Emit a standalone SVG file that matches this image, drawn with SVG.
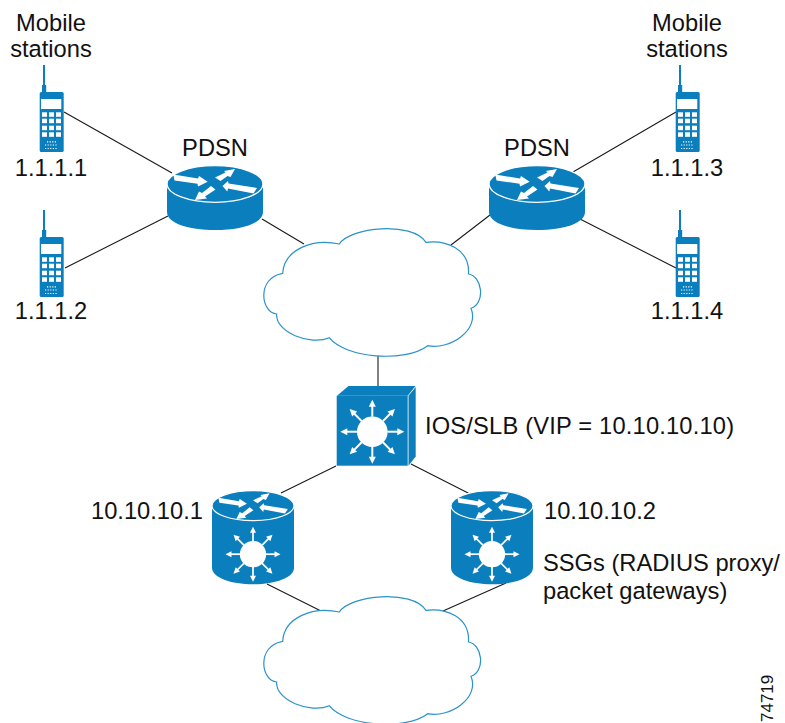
<svg xmlns="http://www.w3.org/2000/svg" xmlns:xlink="http://www.w3.org/1999/xlink" width="785" height="723" viewBox="0 0 785 723">
<style>
text{font-family:"Liberation Sans",Arial,sans-serif;font-size:23.7px;fill:#111}
.c{text-anchor:middle}
.lk{stroke:#1a1a1a;stroke-width:1.1;fill:none}
.b{fill:#0b7fbd}
.w{fill:#fff}
.cl{fill:#fff;stroke:#2a93cb;stroke-width:1.2}
</style>
<defs>
<symbol id="phone" overflow="visible">
<path class="b" d="M43 65h2v20h1.200v7H42v-7h1z"/>
<rect class="b" x="39.700" y="92" width="24" height="60" rx="1.500"/>
<rect class="w" x="41" y="99" width="20.300" height="10"/>
<g class="w">
<rect x="42" y="112.300" width="5" height="4.500"/><rect x="49" y="112.300" width="5" height="4.500"/><rect x="56" y="112.300" width="5" height="4.500"/>
<rect x="42" y="118.700" width="5" height="4.500"/><rect x="49" y="118.700" width="5" height="4.500"/><rect x="56" y="118.700" width="5" height="4.500"/>
<rect x="42" y="125.700" width="5" height="4.500"/><rect x="49" y="125.700" width="5" height="4.500"/><rect x="56" y="125.700" width="5" height="4.500"/>
<rect x="42" y="132.300" width="5" height="4.500"/><rect x="49" y="132.300" width="5" height="4.500"/><rect x="56" y="132.300" width="5" height="4.500"/>
</g>
<path stroke="#fff" stroke-width="1.200" stroke-dasharray="1.200 1.400" fill="none" d="M47 141.800h9M45 145h13M45 148.500h13"/>
</symbol>
<g id="routerArrows">
<path class="w" d="M-41.700 -9.500L-17 -5.500L-16 -8L-7.300 -2.300L-17 2.500L-17.500 -0.300L-40.500 -3.500z"/>
<path class="w" d="M0 -6.500L10.500 -11.500L9 -13L20 -15L15.500 -7L12.500 -8L5.500 -3z"/>
<path class="w" d="M42 4L13.500 -0.500L13 -3L7.500 2L12.300 7.500L13 4.500L38.500 9.500z"/>
<path class="w" d="M0.500 5.500L-4 2L-13 9L-16 7.500L-20 16L-8 14.500L-10 12.500z"/>
</g>
<g id="star">
<circle class="w" r="15.300"/>
<g id="spokes">
<path stroke="#fff" stroke-width="2" d="M0 -15V-26"/><path class="w" d="M0 -32L3.500 -25H-3.500z"/>
</g>
<use xlink:href="#spokes" href="#spokes" transform="rotate(45)"/>
<use xlink:href="#spokes" href="#spokes" transform="rotate(90)"/>
<use xlink:href="#spokes" href="#spokes" transform="rotate(135)"/>
<use xlink:href="#spokes" href="#spokes" transform="rotate(180)"/>
<use xlink:href="#spokes" href="#spokes" transform="rotate(225)"/>
<use xlink:href="#spokes" href="#spokes" transform="rotate(270)"/>
<use xlink:href="#spokes" href="#spokes" transform="rotate(315)"/>
</g>
<g id="router">
<path class="b" d="M-48 0V28C-48 39 -27 46 0 46S48 39 48 28V0z"/>
<ellipse class="b" rx="48" ry="18.300" stroke="#fff" stroke-width="1.300"/>
<use xlink:href="#routerArrows" href="#routerArrows"/>
</g>
<g id="ssg">
<path class="b" d="M-41 0V62C-41 72 -22 78.500 0 78.500S41 72 41 62V0z"/>
<ellipse class="b" rx="41" ry="15" stroke="#fff" stroke-width="1.200"/>
<use xlink:href="#routerArrows" href="#routerArrows" transform="scale(.83)"/>
<use xlink:href="#star" href="#star" transform="translate(0,48.500) scale(.86)"/>
</g>
<path id="cloud" d="M339.300 244C350 227 412 221 426 242.300C445 240 470 248 468.500 274C482 276 486 303 471 308.300C480 330 450 350 427.700 345.700C405 363 345 358 329.300 337.700C310 346 275 332 276.700 314C261 313 256 278 282.700 273.300C284 250 312 238 339.300 244z"/>
</defs>

<g id="connectors">
<path class="lk" d="M64 112L172 173M65 268L168 216M676 112L573 172M676 268L580 219M262 219L304 244M490 215L451 245"/>
<path class="lk" stroke="#555" d="M378 355V386"/>
<path class="lk" d="M336 466L281 493M411 464L474 496M267 584L321 611M506 583L443 611"/>
</g>

<g id="cloud1"><use xlink:href="#cloud" href="#cloud" class="cl"/></g>
<g id="cloud2"><use xlink:href="#cloud" href="#cloud" class="cl" y="368"/></g>

<g id="phone1"><use xlink:href="#phone" href="#phone"/><text class="c" x="51" y="31">Mobile</text><text class="c" x="51" y="57">stations</text><text class="c" x="51" y="176">1.1.1.1</text></g>
<g id="phone2"><use xlink:href="#phone" href="#phone" y="145"/><text class="c" x="51" y="319">1.1.1.2</text></g>
<g id="phone3"><use xlink:href="#phone" href="#phone" x="636"/><text class="c" x="687" y="31">Mobile</text><text class="c" x="687" y="57">stations</text><text class="c" x="687" y="176">1.1.1.3</text></g>
<g id="phone4"><use xlink:href="#phone" href="#phone" x="636" y="145"/><text class="c" x="687" y="319">1.1.1.4</text></g>

<g id="pdsn1"><use xlink:href="#router" href="#router" transform="translate(215,184)"/><text class="c" x="215" y="156">PDSN</text></g>
<g id="pdsn2"><use xlink:href="#router" href="#router" transform="translate(537,184)"/><text class="c" x="537" y="156">PDSN</text></g>

<g id="slb">
<path class="b" d="M337 395.700L348.500 386H415.500L407.700 395.700z"/>
<path class="b" d="M408.500 395.700L415.700 387V456.500L408.500 465.700z"/>
<rect class="b" x="336.700" y="395.700" width="71" height="70"/>
<use xlink:href="#star" href="#star" transform="translate(372.300,431.700)"/>
<text x="425" y="434" style="letter-spacing:.18px">IOS/SLB (VIP = 10.10.10.10)</text>
</g>

<g id="ssg1"><use xlink:href="#ssg" href="#ssg" transform="translate(253,505.700)"/><text x="91" y="519">10.10.10.1</text></g>
<g id="ssg2"><use xlink:href="#ssg" href="#ssg" transform="translate(492,505.700)"/><text x="544" y="519">10.10.10.2</text><text x="543" y="571">SSGs (RADIUS proxy/</text><text x="543" y="599">packet gateways)</text></g>

<text transform="translate(773,722) rotate(-90)" style="font-size:17px">74719</text>
</svg>
